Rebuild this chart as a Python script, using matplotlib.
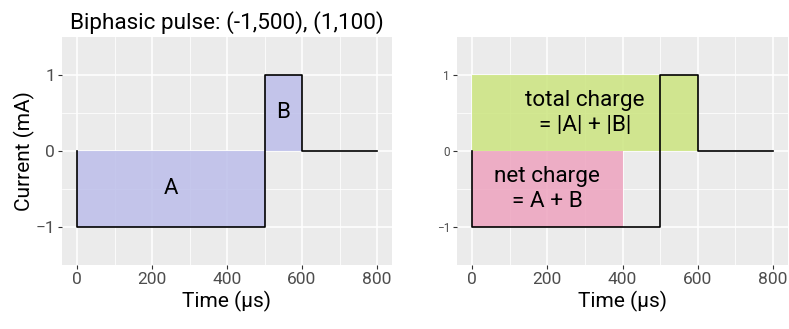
import numpy as np
import matplotlib.pyplot as plt

plt.rcParams['font.family'] = ['Roboto', 'DejaVu Sans']

# pulse waveform
pulse_t = [0, 0, 500, 500, 600, 600, 800]
pulse_i = [0, -1, -1, 1, 1, 0, 0]

# phase areas (left panel)
A_t = [0, 500]; A_i = -1
B_t = [500, 600]; B_i = 1
# charge areas (right panel)
total_t = [0, 600]; total_i = 1
net_t = [0, 400]; net_i = -1

xticks = [0, 200, 400, 600, 800]
yticks = [-1, 0, 1]

bg = '#EBEBEB'
blue = '#bcbeea'
green = '#cce57f'
pink = '#eea3bf'


def style(ax, ytick_size):
    ax.set_facecolor(bg)
    ax.set_xlim(-40, 840)
    ax.set_ylim(-1.5, 1.5)
    ax.set_xticks(xticks)
    ax.set_yticks(yticks)
    ax.set_yticklabels(['\u22121', '0', '1'])
    ax.set_xticks([100, 300, 500, 700], minor=True)
    ax.set_yticks([-0.5, 0.5], minor=True)
    ax.grid(which='major', color='white', lw=1.1)
    ax.grid(which='minor', color='white', lw=0.55)
    ax.set_axisbelow(True)
    for s in ax.spines.values():
        s.set_visible(False)
    ax.tick_params(which='major', length=3, width=0.8, color='#333333', labelcolor='#4d4d4d', pad=2)
    ax.tick_params(which='minor', length=0)
    ax.tick_params(axis='x', labelsize=12.5)
    ax.tick_params(axis='y', labelsize=ytick_size)
    ax.set_xlabel('Time (\u00b5s)', fontsize=15, labelpad=3)


fig = plt.figure(figsize=(7.89, 3.29), dpi=100)
ax1 = fig.add_axes([62 / 789, 64 / 329, 330 / 789, 228 / 329])
ax2 = fig.add_axes([457 / 789, 64 / 329, 331 / 789, 228 / 329])

# left panel
style(ax1, 12.5)
ax1.fill_between(A_t, A_i, 0, color=blue, alpha=0.85, lw=0)
ax1.fill_between(B_t, 0, B_i, color=blue, alpha=0.85, lw=0)
ax1.plot(pulse_t, pulse_i, color='black', lw=1.2)
ax1.text(250, -0.5, 'A', fontsize=16, ha='center', va='center')
ax1.text(550, 0.5, 'B', fontsize=16, ha='center', va='center')
ax1.set_ylabel('Current (mA)', fontsize=15, labelpad=0)
ax1.set_title('Biphasic pulse: (-1,500), (1,100)', fontsize=16.2, loc='left', x=0.024, pad=6)

# right panel
style(ax2, 8.5)
ax2.fill_between(total_t, 0, total_i, color=green, alpha=0.85, lw=0)
ax2.fill_between(net_t, net_i, 0, color=pink, alpha=0.85, lw=0)
ax2.plot(pulse_t, pulse_i, color='black', lw=1.2)
ax2.text(300, 0.5, 'total charge\n= |A| + |B|', fontsize=16.2, ha='center', va='center',
         linespacing=1.25)
ax2.text(200, -0.5, 'net charge\n= A + B', fontsize=16.2, ha='center', va='center',
         linespacing=1.25)

fig.savefig('out.png', dpi=100)
